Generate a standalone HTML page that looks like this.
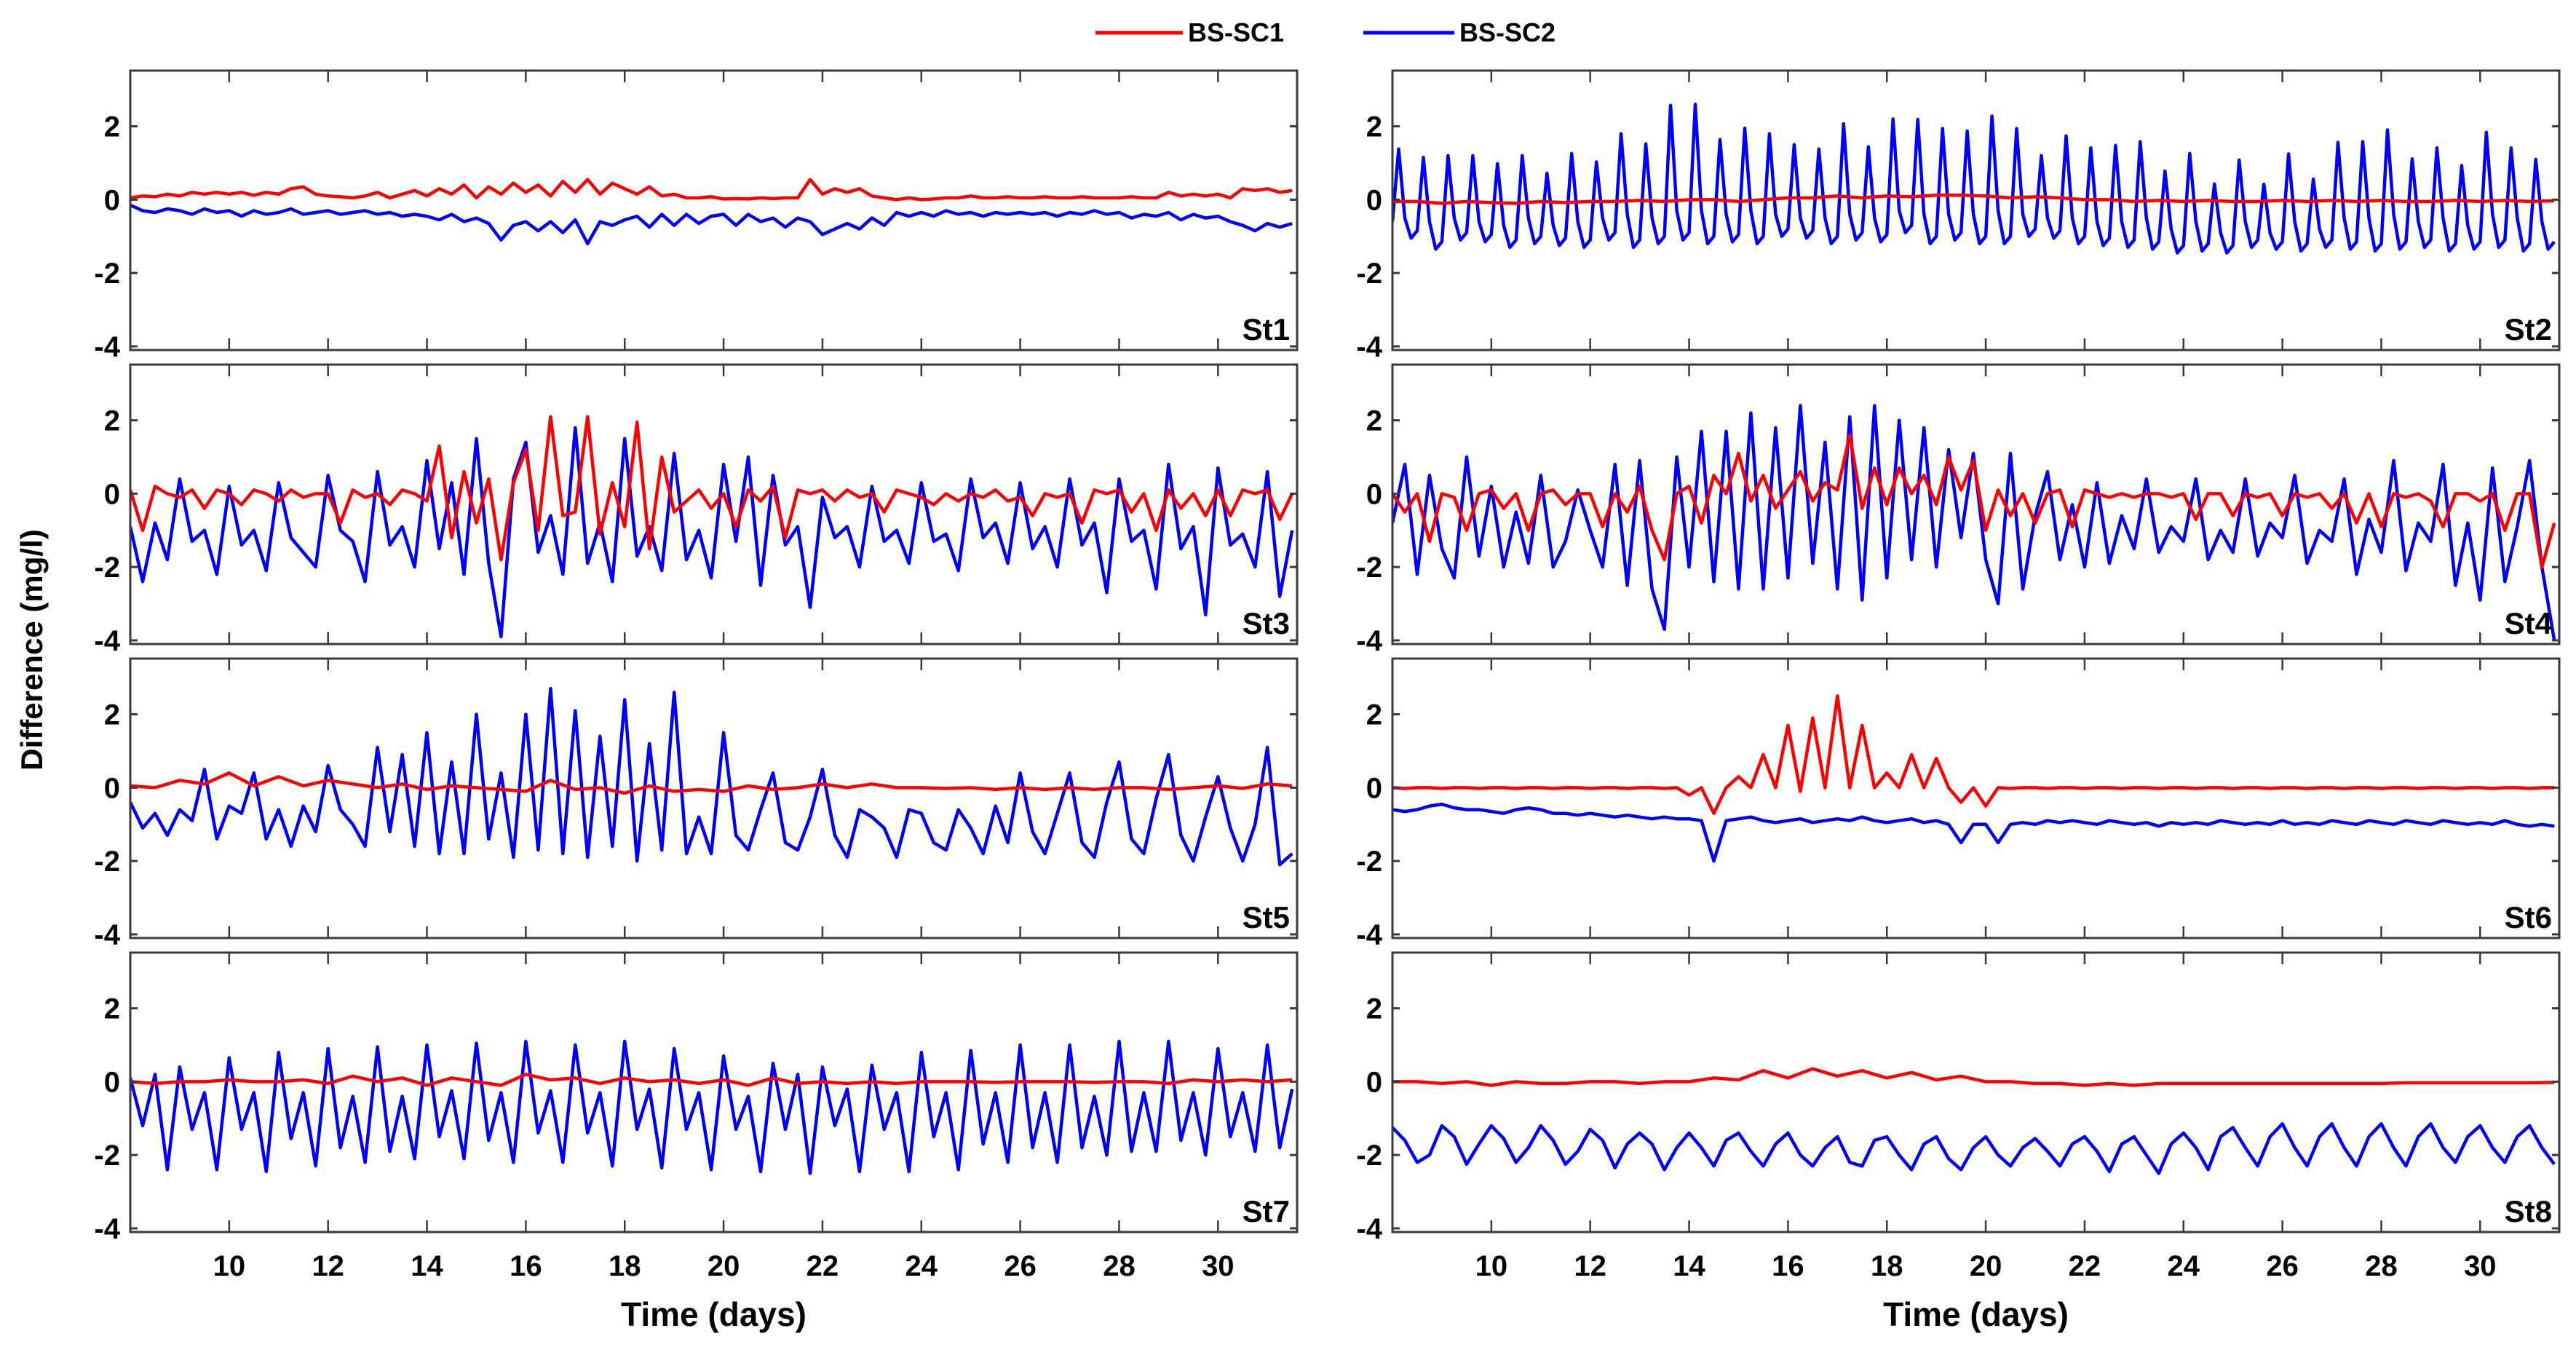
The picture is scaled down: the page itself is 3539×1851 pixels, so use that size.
<!DOCTYPE html>
<html><head><meta charset="utf-8"><style>
html,body{margin:0;padding:0;background:#fff}
svg{display:block}
text{font-family:"Liberation Sans Narrow","Liberation Sans",Arial,sans-serif;font-weight:bold;fill:#000}
</style></head><body>
<svg id="chart" width="3539" height="1851" viewBox="0 0 3539 1851" xmlns="http://www.w3.org/2000/svg">
<g>
<line x1="1505" y1="45" x2="1625" y2="45" stroke="#ff0000" stroke-width="5"/>
<text x="1632" y="57" font-size="36">BS-SC1</text>
<line x1="1873" y1="45" x2="1998" y2="45" stroke="#0000ff" stroke-width="5"/>
<text x="2005" y="57" font-size="36">BS-SC2</text>
</g>
<text transform="translate(58,893) rotate(-90)" text-anchor="middle" font-size="42">Difference (mg/l)</text>
<g id="panels"></g>
</svg>
<script>
const xTicks=[10,12,14,16,18,20,22,24,26,28,30];
const yTicks=[-4,-2,0,2];
const stationNames=["St1","St2","St3","St4","St5","St6","St7","St8"];

const st1Red=[0.05,0.1,0.08,0.15,0.1,0.2,0.15,0.2,0.15,0.2,0.12,0.2,0.15,0.3,0.35,0.15,0.1,0.08,0.05,0.1,0.2,0.05,0.15,0.25,0.1,0.3,0.15,0.4,0.05,0.35,0.15,0.45,0.2,0.4,0.1,0.5,0.2,0.55,0.15,0.45,0.3,0.15,0.35,0.1,0.15,0.05,0.05,0.08,0.02,0.03,0.02,0.05,0.03,0.05,0.05,0.55,0.15,0.3,0.2,0.3,0.1,0.05,0.0,0.05,0.0,0.02,0.05,0.05,0.1,0.05,0.05,0.08,0.05,0.05,0.08,0.05,0.05,0.08,0.05,0.05,0.05,0.08,0.05,0.05,0.2,0.1,0.15,0.1,0.15,0.05,0.3,0.25,0.3,0.2,0.25];
const st1Blue=[-0.15,-0.3,-0.35,-0.25,-0.3,-0.4,-0.25,-0.35,-0.3,-0.45,-0.3,-0.4,-0.35,-0.25,-0.4,-0.35,-0.3,-0.4,-0.35,-0.3,-0.4,-0.35,-0.45,-0.4,-0.45,-0.55,-0.4,-0.6,-0.5,-0.65,-1.1,-0.7,-0.6,-0.85,-0.6,-0.9,-0.55,-1.2,-0.6,-0.7,-0.55,-0.45,-0.75,-0.4,-0.7,-0.4,-0.65,-0.45,-0.4,-0.7,-0.4,-0.6,-0.5,-0.75,-0.5,-0.6,-0.95,-0.8,-0.65,-0.8,-0.5,-0.7,-0.35,-0.45,-0.35,-0.45,-0.3,-0.4,-0.35,-0.45,-0.35,-0.4,-0.35,-0.4,-0.35,-0.45,-0.35,-0.4,-0.3,-0.4,-0.35,-0.5,-0.4,-0.45,-0.35,-0.55,-0.4,-0.5,-0.45,-0.6,-0.7,-0.85,-0.65,-0.75,-0.65];
const st2Red=[-0.05,-0.05,-0.1,-0.05,-0.08,-0.1,-0.05,-0.08,-0.05,-0.05,-0.02,-0.05,0.0,0.0,-0.05,0.0,0.05,0.05,0.1,0.05,0.1,0.08,0.12,0.12,0.1,0.05,0.08,0.05,0.0,0.0,-0.05,-0.02,-0.05,-0.02,-0.05,-0.05,-0.02,-0.05,-0.02,-0.05,-0.02,-0.05,-0.05,-0.02,-0.05,-0.02,-0.05,-0.03];
const st2Blue=[-0.6,
1.38,-0.5,-1.05,-0.85, 1.15,-0.6,-1.35,-1.15, 1.2,-0.5,-1.1,-0.9, 1.2,-0.6,-1.15,-0.95,
0.98,-0.7,-1.3,-1.1, 1.2,-0.5,-1.2,-1.0, 0.72,-0.7,-1.25,-1.05, 1.26,-0.6,-1.3,-1.1,
1.03,-0.5,-1.1,-0.9, 1.8,-0.4,-1.3,-1.1, 1.52,-0.5,-1.2,-1.0, 2.57,-0.3,-1.1,-0.9,
2.6,-0.3,-1.2,-1.0, 1.64,-0.4,-1.15,-0.95, 1.95,-0.3,-1.2,-1.0, 1.8,-0.4,-1.0,-0.8,
1.5,-0.5,-1.05,-0.85, 1.38,-0.5,-1.2,-1.0, 2.07,-0.4,-1.1,-0.9, 1.44,-0.5,-1.15,-0.95,
2.2,-0.3,-0.9,-0.7, 2.19,-0.4,-1.2,-1.0, 1.94,-0.4,-1.1,-0.9, 1.87,-0.4,-1.2,-1.0,
2.28,-0.3,-1.2,-1.0, 1.94,-0.4,-1.0,-0.8, 1.2,-0.5,-1.05,-0.85, 1.74,-0.5,-1.2,-1.0,
1.41,-0.6,-1.25,-1.05, 1.48,-0.6,-1.3,-1.1, 1.58,-0.5,-1.35,-1.15, 0.78,-0.8,-1.45,-1.25,
1.26,-0.6,-1.4,-1.2, 0.43,-0.9,-1.45,-1.25, 1.08,-0.6,-1.3,-1.1, 0.42,-0.9,-1.35,-1.15,
1.25,-0.6,-1.4,-1.2, 0.56,-0.8,-1.3,-1.1, 1.56,-0.5,-1.35,-1.15, 1.58,-0.5,-1.4,-1.2,
1.9,-0.4,-1.35,-1.15, 1.11,-0.6,-1.3,-1.1, 1.41,-0.5,-1.4,-1.2, 0.93,-0.7,-1.35,-1.15,
1.84,-0.4,-1.3,-1.1, 1.41,-0.5,-1.4,-1.2, 1.1,-0.6,-1.35,-1.15];
const st3Red=[0.1,-1.0,0.2,0.0,-0.1,0.1,-0.4,0.1,0.0,-0.3,0.1,0.0,-0.2,0.1,-0.1,0.0,0.0,-0.8,0.1,-0.1,0.0,-0.3,0.1,0.0,-0.2,1.3,-1.2,0.6,-0.8,0.4,-1.8,0.3,1.2,-1.0,2.1,-0.6,-0.5,2.1,-1.1,0.3,-0.9,1.95,-1.5,1.0,-0.5,-0.2,0.1,-0.4,0.0,-0.9,0.1,-0.2,0.2,-1.2,0.1,0.0,0.1,-0.2,0.1,-0.1,0.0,-0.5,0.1,0.0,-0.1,-0.3,0.0,-0.2,0.0,-0.1,0.1,-0.2,-0.1,-0.6,0.0,-0.1,0.0,-0.8,0.1,0.0,0.1,-0.5,0.0,-1.0,0.1,-0.4,0.0,-0.6,0.1,-0.6,0.1,0.0,0.1,-0.7,0.0];
const st3Blue=[-0.9,-2.4,-0.8,-1.8,0.4,-1.3,-1.0,-2.2,0.2,-1.4,-1.0,-2.1,0.3,-1.2,-1.6,-2.0,0.5,-1.0,-1.3,-2.4,0.6,-1.4,-0.9,-2.0,0.9,-1.5,0.3,-2.2,1.5,-1.9,-3.9,0.4,1.4,-1.6,-0.6,-2.2,1.8,-1.9,-0.8,-2.4,1.5,-1.7,-0.9,-2.1,1.1,-1.8,-1.0,-2.3,0.8,-1.3,1.0,-2.5,0.5,-1.4,-0.9,-3.1,-0.1,-1.2,-0.9,-2.0,0.2,-1.3,-1.0,-1.9,0.3,-1.3,-1.1,-2.1,0.4,-1.2,-0.8,-1.9,0.3,-1.5,-0.9,-2.0,0.4,-1.4,-0.8,-2.7,0.4,-1.3,-1.0,-2.6,0.8,-1.5,-0.9,-3.3,0.7,-1.4,-1.1,-2.0,0.6,-2.8,-1.0];
const st4Red=[0.0,-0.5,0.0,-1.3,0.0,-0.1,-1.0,0.0,0.1,-0.4,0.0,-1.0,0.0,0.1,-0.3,0.0,0.0,-0.9,0.0,-0.5,0.2,-1.0,-1.8,0.0,0.2,-0.8,0.5,0.0,1.1,-0.2,0.5,-0.4,0.1,0.6,-0.2,0.3,0.1,1.6,-0.4,0.7,-0.3,0.7,0.0,0.5,-0.3,1.0,0.1,0.9,-1.0,0.1,-0.6,0.0,-0.8,0.0,0.1,-0.9,0.1,0.0,-0.1,0.0,-0.1,0.0,0.0,-0.1,0.0,-0.7,0.0,0.0,-0.6,0.0,-0.1,0.0,-0.6,0.0,-0.1,0.0,-0.4,0.0,-0.8,0.0,-0.9,0.0,-0.1,0.0,-0.2,-0.9,0.0,0.0,-0.2,0.0,-1.0,0.0,0.0,-2.0,-0.8];
const st4Blue=[-0.8,0.8,-2.2,0.5,-1.5,-2.3,1.0,-1.7,0.2,-2.0,-0.5,-1.9,0.5,-2.0,-1.3,0.1,-1.0,-2.0,0.8,-2.5,0.9,-2.6,-3.7,1.0,-2.0,1.7,-2.4,1.7,-2.6,2.2,-2.6,1.8,-2.3,2.4,-1.9,1.4,-2.6,2.1,-2.9,2.4,-2.3,2.0,-1.8,1.8,-2.0,1.2,-1.2,1.1,-1.8,-3.0,1.1,-2.6,-0.6,0.6,-1.8,-0.3,-2.0,0.3,-1.9,-0.6,-1.5,0.4,-1.6,-0.9,-1.3,0.4,-1.8,-1.0,-1.6,0.4,-1.7,-0.8,-1.2,0.5,-1.9,-1.0,-1.3,0.4,-2.2,-0.7,-1.6,0.9,-2.1,-0.8,-1.3,0.8,-2.5,-0.8,-2.9,0.7,-2.4,-0.9,0.9,-2.0,-4.0];
const st5Red=[0.05,0.0,0.2,0.1,0.4,0.05,0.3,0.05,0.2,0.1,0.0,0.1,-0.05,0.05,0.0,-0.05,-0.1,0.2,-0.05,0.0,-0.15,0.05,-0.1,-0.05,-0.1,0.05,-0.05,0.0,0.1,0.0,0.1,0.0,0.0,-0.02,0.0,-0.05,0.0,-0.05,0.0,-0.05,0.0,0.0,-0.05,0.0,0.05,-0.02,0.1,0.05];
const st5Blue=[-0.4,-1.1,-0.7,-1.3,-0.6,-0.9,0.5,-1.4,-0.5,-0.7,0.4,-1.4,-0.6,-1.6,-0.5,-1.2,0.6,-0.6,-1.0,-1.6,1.1,-1.2,0.9,-1.6,1.5,-1.8,0.7,-1.8,2.0,-1.4,0.4,-1.9,2.0,-1.7,2.7,-1.8,2.1,-1.9,1.4,-1.6,2.4,-2.0,1.2,-1.7,2.6,-1.8,-0.8,-1.8,1.5,-1.3,-1.7,-0.6,0.4,-1.5,-1.7,-0.8,0.5,-1.3,-1.9,-0.6,-0.8,-1.1,-1.9,-0.6,-0.7,-1.5,-1.7,-0.6,-1.1,-1.8,-0.5,-1.5,0.4,-1.2,-1.8,-0.7,0.4,-1.5,-1.9,-0.4,0.7,-1.4,-1.8,-0.3,0.9,-1.3,-2.0,-0.8,0.3,-1.1,-2.0,-1.0,1.1,-2.1,-1.8];
const st6Red=[0.0,-0.02,0.0,0.0,-0.02,0.0,0.0,-0.02,0.0,0.0,-0.02,0.0,0.0,-0.02,0.0,0.0,-0.02,0.0,0.0,-0.02,0.0,0.0,-0.02,0.0,-0.2,0.0,-0.7,0.0,0.3,0.0,0.9,0.0,1.7,-0.1,1.9,0.0,2.5,0.0,1.7,0.0,0.4,0.0,0.9,0.0,0.8,0.0,-0.4,0.0,-0.5,0.0,-0.02,0.0,0.0,-0.02,0.0,0.0,-0.02,0.0,0.0,-0.02,0.0,0.0,-0.02,0.0,0.0,-0.02,0.0,0.0,-0.02,0.0,0.0,-0.02,0.0,0.0,-0.02,0.0,0.0,-0.02,0.0,0.0,-0.02,0.0,0.0,-0.02,0.0,0.0,-0.02,0.0,0.0,-0.02,0.0,0.0,-0.02,0.0,0.0];
const st6Blue=[-0.6,-0.65,-0.6,-0.5,-0.45,-0.55,-0.6,-0.6,-0.65,-0.7,-0.6,-0.55,-0.6,-0.7,-0.7,-0.75,-0.7,-0.75,-0.8,-0.75,-0.8,-0.85,-0.8,-0.85,-0.85,-0.9,-2.0,-0.9,-0.85,-0.8,-0.9,-0.95,-0.9,-0.85,-0.95,-0.9,-0.85,-0.9,-0.8,-0.9,-0.95,-0.9,-0.85,-0.95,-0.9,-1.0,-1.5,-1.0,-1.0,-1.5,-1.0,-0.95,-1.0,-0.9,-0.95,-0.9,-0.95,-1.0,-0.9,-0.95,-1.0,-0.95,-1.05,-0.95,-1.0,-0.95,-1.0,-0.9,-0.95,-1.0,-0.95,-1.0,-0.9,-1.0,-0.95,-1.0,-0.9,-0.95,-1.0,-0.9,-0.95,-1.0,-0.9,-0.95,-1.0,-0.9,-0.95,-1.0,-0.95,-1.0,-0.9,-1.0,-1.05,-1.0,-1.05];
const st7Red=[0.0,-0.05,0.0,0.0,0.05,0.0,0.0,0.05,-0.05,0.15,0.0,0.1,-0.1,0.1,0.0,-0.1,0.2,0.05,0.1,-0.05,0.1,0.0,0.05,-0.05,0.05,-0.1,0.1,-0.05,0.0,-0.05,0.0,-0.05,0.0,0.0,0.0,-0.02,0.0,0.0,0.0,-0.02,0.0,0.0,-0.05,0.05,0.0,0.05,0.0,0.05];
const st7Blue=[0.1,-1.2,0.2,-2.4,0.4,-1.3,-0.3,-2.4,0.65,-1.3,-0.3,-2.45,0.8,-1.55,-0.3,-2.3,0.9,-1.8,-0.4,-2.2,0.95,-1.9,-0.4,-2.1,1.0,-1.5,-0.25,-2.1,1.05,-1.6,-0.3,-2.2,1.1,-1.4,-0.25,-2.2,1.0,-1.4,-0.3,-2.3,1.1,-1.3,-0.2,-2.35,0.9,-1.3,-0.3,-2.4,0.7,-1.3,-0.4,-2.45,0.5,-1.3,0.2,-2.5,0.4,-1.2,-0.2,-2.45,0.45,-1.3,-0.3,-2.45,0.8,-1.5,-0.3,-2.4,0.85,-1.7,-0.3,-2.2,1.0,-1.8,-0.3,-2.2,1.0,-1.8,-0.4,-2.0,1.1,-1.9,-0.3,-1.9,1.1,-1.6,-0.3,-2.0,0.9,-1.5,-0.3,-1.9,1.0,-1.8,-0.2];
const st8Red=[0.0,0.0,-0.05,0.0,-0.1,0.0,-0.05,-0.05,0.0,0.0,-0.05,0.0,0.0,0.1,0.05,0.3,0.1,0.35,0.15,0.3,0.1,0.25,0.05,0.15,0.0,0.0,-0.05,-0.05,-0.1,-0.05,-0.1,-0.05,-0.05,-0.05,-0.05,-0.05,-0.05,-0.05,-0.05,-0.05,-0.05,-0.03,-0.03,-0.03,-0.03,-0.03,-0.03,-0.02];
const st8Blue=[-1.25,-1.6,-2.2,-2.0,-1.2,-1.5,-2.25,-1.7,-1.2,-1.55,-2.2,-1.8,-1.2,-1.6,-2.25,-1.9,-1.3,-1.6,-2.35,-1.7,-1.4,-1.7,-2.4,-1.8,-1.4,-1.8,-2.3,-1.6,-1.4,-1.9,-2.3,-1.7,-1.4,-2.0,-2.3,-1.8,-1.5,-2.2,-2.3,-1.6,-1.5,-2.0,-2.4,-1.7,-1.5,-2.1,-2.4,-1.8,-1.5,-2.0,-2.3,-1.8,-1.55,-1.9,-2.3,-1.7,-1.5,-1.9,-2.45,-1.7,-1.5,-2.0,-2.5,-1.7,-1.4,-1.8,-2.4,-1.5,-1.25,-1.8,-2.3,-1.5,-1.15,-1.8,-2.3,-1.5,-1.15,-1.8,-2.3,-1.5,-1.15,-1.8,-2.3,-1.5,-1.15,-1.8,-2.2,-1.5,-1.2,-1.8,-2.2,-1.5,-1.2,-1.8,-2.25];

const redSeries=[st1Red,st2Red,st3Red,st4Red,st5Red,st6Red,st7Red,st8Red];
const blueSeries=[st1Blue,st2Blue,st3Blue,st4Blue,st5Blue,st6Blue,st7Blue,st8Blue];
const T0=8, T1=31.6, TEND=31.5, Y0=-4.1, Y1=3.52;
const colX=[179,1913], panelW=1603, rowY=[97,501,905,1309], panelH=384;
const NS="http://www.w3.org/2000/svg";
const root=document.getElementById('panels');
function mk(tag,attrs,parent){const e=document.createElementNS(NS,tag);for(const k in attrs)e.setAttribute(k,attrs[k]);(parent||root).appendChild(e);return e;}
for(let p=0;p<8;p++){
  const col=p%2,row=Math.floor(p/2);
  const L=colX[col],T=rowY[row],W=panelW,H=panelH;
  const xs=t=>L+(t-T0)/(T1-T0)*W;
  const ys=v=>T+(Y1-v)/(Y1-Y0)*H;
  const g=mk('g',{});
  
  
  const clipId='clip'+p;
  const cp=mk('clipPath',{id:clipId},g);
  mk('rect',{x:L,y:T,width:W,height:H},cp);
  function drawLine(vals,color,name){
    const step=(TEND-T0)/(vals.length-1);
    let d='';
    vals.forEach((v,i)=>{d+=(i?'L':'M')+xs(T0+i*step).toFixed(1)+','+ys(v).toFixed(1);});
    const path=mk('path',{d:d,fill:'none',stroke:color,'stroke-width':4.5,'stroke-linejoin':'round','clip-path':'url(#'+clipId+')'},g);
    
    
  }
  drawLine(blueSeries[p],'#0000ff','series-bs-sc2-'+stationNames[p].toLowerCase());
  drawLine(redSeries[p],'#ff0000','series-bs-sc1-'+stationNames[p].toLowerCase());
  const frame=mk('rect',{x:L,y:T,width:W,height:H,fill:'none',stroke:'#3a3a3a','stroke-width':3},g);
  
  
  xTicks.forEach(t=>{
    const x=xs(t);
    mk('line',{x1:x,y1:T,x2:x,y2:T+16,stroke:'#3a3a3a','stroke-width':2.5},g);
    mk('line',{x1:x,y1:T+H,x2:x,y2:T+H-16,stroke:'#3a3a3a','stroke-width':2.5},g);
    if(row===3){
      const lb=mk('text',{x:x,y:T+H+60,'text-anchor':'middle','font-size':40},g);
      
      
      lb.textContent=t;
    }
  });
  yTicks.forEach(v=>{
    const y=ys(v);
    mk('line',{x1:L,y1:y,x2:L+10,y2:y,stroke:'#3a3a3a','stroke-width':3},g);
    mk('line',{x1:L+W,y1:y,x2:L+W-10,y2:y,stroke:'#3a3a3a','stroke-width':3},g);
    const lb=mk('text',{x:L-14,y:y+14,'text-anchor':'end','font-size':40},g);
    
    
    lb.textContent=v;
  });
  const st=mk('text',{x:L+W-10,y:T+H-14,'text-anchor':'end','font-size':42},g);
  
  
  st.textContent=stationNames[p];
  if(row===3){
    const xt=mk('text',{x:L+W/2,y:1822,'text-anchor':'middle','font-size':46},g);
    
    
    xt.textContent='Time (days)';
  }
}
</script>
</body></html>
